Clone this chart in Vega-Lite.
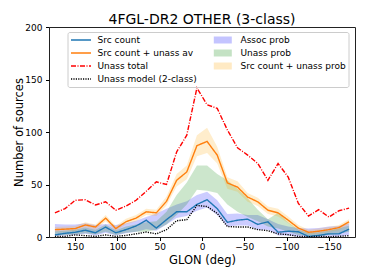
{
  "$schema": "https://vega.github.io/schema/vega-lite/v6.json",
  "width": 306,
  "height": 210,
  "autosize": {"type": "none"},
  "padding": {"left": 49, "top": 27, "right": 19, "bottom": 43},
  "config": {
    "font": "DejaVu Sans",
    "view": {"stroke": "#222222", "strokeWidth": 1},
    "axis": {"domain": false, "grid": false, "tickColor": "#000000", "tickSize": 3.5, "labelFontSize": 9, "labelColor": "#000000", "titleFontSize": 11.5, "titleFontWeight": "normal", "titleColor": "#000000"}
  },
  "title": {"text": "4FGL-DR2 OTHER (3-class)", "fontSize": 14, "fontWeight": "normal", "color": "#000000", "anchor": "middle", "offset": -4},
  "datasets": {
    "lines": [
      {"glon":174,"series":"Src count","v":2},{"glon":162,"series":"Src count","v":3.5},{"glon":150,"series":"Src count","v":4.5},{"glon":138,"series":"Src count","v":6.5},{"glon":126,"series":"Src count","v":4},{"glon":114,"series":"Src count","v":9.5},{"glon":102,"series":"Src count","v":4},{"glon":90,"series":"Src count","v":7},{"glon":78,"series":"Src count","v":10.5},{"glon":66,"series":"Src count","v":16},{"glon":54,"series":"Src count","v":8.5},{"glon":42,"series":"Src count","v":16.5},{"glon":30,"series":"Src count","v":24},{"glon":18,"series":"Src count","v":24},{"glon":6,"series":"Src count","v":31},{"glon":-6,"series":"Src count","v":35.5},{"glon":-18,"series":"Src count","v":27},{"glon":-30,"series":"Src count","v":14},{"glon":-42,"series":"Src count","v":16},{"glon":-54,"series":"Src count","v":17},{"glon":-66,"series":"Src count","v":12},{"glon":-78,"series":"Src count","v":14.5},{"glon":-90,"series":"Src count","v":4.5},{"glon":-102,"series":"Src count","v":5.5},{"glon":-114,"series":"Src count","v":5},{"glon":-126,"series":"Src count","v":0.5},{"glon":-138,"series":"Src count","v":1.5},{"glon":-150,"series":"Src count","v":3},{"glon":-162,"series":"Src count","v":3},{"glon":-174,"series":"Src count","v":7.5},
      {"glon":174,"series":"Src count + unass av","v":7},{"glon":162,"series":"Src count + unass av","v":7.5},{"glon":150,"series":"Src count + unass av","v":8},{"glon":138,"series":"Src count + unass av","v":11.5},{"glon":126,"series":"Src count + unass av","v":9.5},{"glon":114,"series":"Src count + unass av","v":18},{"glon":102,"series":"Src count + unass av","v":8},{"glon":90,"series":"Src count + unass av","v":14.5},{"glon":78,"series":"Src count + unass av","v":18},{"glon":66,"series":"Src count + unass av","v":24},{"glon":54,"series":"Src count + unass av","v":23},{"glon":42,"series":"Src count + unass av","v":34},{"glon":30,"series":"Src count + unass av","v":54},{"glon":18,"series":"Src count + unass av","v":62},{"glon":6,"series":"Src count + unass av","v":87},{"glon":-6,"series":"Src count + unass av","v":91},{"glon":-18,"series":"Src count + unass av","v":78},{"glon":-30,"series":"Src count + unass av","v":51.5},{"glon":-42,"series":"Src count + unass av","v":47.5},{"glon":-54,"series":"Src count + unass av","v":38},{"glon":-66,"series":"Src count + unass av","v":33.5},{"glon":-78,"series":"Src count + unass av","v":25.5},{"glon":-90,"series":"Src count + unass av","v":23},{"glon":-102,"series":"Src count + unass av","v":16},{"glon":-114,"series":"Src count + unass av","v":8.5},{"glon":-126,"series":"Src count + unass av","v":4.5},{"glon":-138,"series":"Src count + unass av","v":5.5},{"glon":-150,"series":"Src count + unass av","v":7},{"glon":-162,"series":"Src count + unass av","v":9},{"glon":-174,"series":"Src count + unass av","v":14.5},
      {"glon":174,"series":"Unass total","v":23},{"glon":162,"series":"Unass total","v":27},{"glon":150,"series":"Unass total","v":35},{"glon":138,"series":"Unass total","v":35.5},{"glon":126,"series":"Unass total","v":30.5},{"glon":114,"series":"Unass total","v":33.5},{"glon":102,"series":"Unass total","v":25.5},{"glon":90,"series":"Unass total","v":29.5},{"glon":78,"series":"Unass total","v":35},{"glon":66,"series":"Unass total","v":43.5},{"glon":54,"series":"Unass total","v":52.5},{"glon":42,"series":"Unass total","v":50},{"glon":30,"series":"Unass total","v":81},{"glon":18,"series":"Unass total","v":97},{"glon":6,"series":"Unass total","v":142},{"glon":-6,"series":"Unass total","v":126},{"glon":-18,"series":"Unass total","v":122.5},{"glon":-30,"series":"Unass total","v":102},{"glon":-42,"series":"Unass total","v":85},{"glon":-54,"series":"Unass total","v":78},{"glon":-66,"series":"Unass total","v":70},{"glon":-78,"series":"Unass total","v":54},{"glon":-90,"series":"Unass total","v":70},{"glon":-102,"series":"Unass total","v":57},{"glon":-114,"series":"Unass total","v":32},{"glon":-126,"series":"Unass total","v":20},{"glon":-138,"series":"Unass total","v":26},{"glon":-150,"series":"Unass total","v":19},{"glon":-162,"series":"Unass total","v":25},{"glon":-174,"series":"Unass total","v":27.5},
      {"glon":174,"series":"Unass model (2-class)","v":0.6},{"glon":162,"series":"Unass model (2-class)","v":0.6},{"glon":150,"series":"Unass model (2-class)","v":2},{"glon":138,"series":"Unass model (2-class)","v":1.3},{"glon":126,"series":"Unass model (2-class)","v":0.6},{"glon":114,"series":"Unass model (2-class)","v":2},{"glon":102,"series":"Unass model (2-class)","v":0.6},{"glon":90,"series":"Unass model (2-class)","v":1.5},{"glon":78,"series":"Unass model (2-class)","v":3},{"glon":66,"series":"Unass model (2-class)","v":4.7},{"glon":54,"series":"Unass model (2-class)","v":3},{"glon":42,"series":"Unass model (2-class)","v":7},{"glon":30,"series":"Unass model (2-class)","v":15.5},{"glon":18,"series":"Unass model (2-class)","v":16.5},{"glon":6,"series":"Unass model (2-class)","v":30},{"glon":-6,"series":"Unass model (2-class)","v":29},{"glon":-18,"series":"Unass model (2-class)","v":22.5},{"glon":-30,"series":"Unass model (2-class)","v":10},{"glon":-42,"series":"Unass model (2-class)","v":9.5},{"glon":-54,"series":"Unass model (2-class)","v":9.5},{"glon":-66,"series":"Unass model (2-class)","v":7},{"glon":-78,"series":"Unass model (2-class)","v":6},{"glon":-90,"series":"Unass model (2-class)","v":3},{"glon":-102,"series":"Unass model (2-class)","v":2.2},{"glon":-114,"series":"Unass model (2-class)","v":0.6},{"glon":-126,"series":"Unass model (2-class)","v":0.3},{"glon":-138,"series":"Unass model (2-class)","v":0.6},{"glon":-150,"series":"Unass model (2-class)","v":0.3},{"glon":-162,"series":"Unass model (2-class)","v":0.6},{"glon":-174,"series":"Unass model (2-class)","v":1.3}
    ],
    "bands": [
      {"glon":174,"series":"Assoc prob","lo":1,"hi":12.5},{"glon":162,"series":"Assoc prob","lo":1.5,"hi":12},{"glon":150,"series":"Assoc prob","lo":2,"hi":12},{"glon":138,"series":"Assoc prob","lo":3,"hi":13},{"glon":126,"series":"Assoc prob","lo":1.5,"hi":11.5},{"glon":114,"series":"Assoc prob","lo":4,"hi":12.5},{"glon":102,"series":"Assoc prob","lo":1.5,"hi":11.5},{"glon":90,"series":"Assoc prob","lo":3.5,"hi":13},{"glon":78,"series":"Assoc prob","lo":5,"hi":15.5},{"glon":66,"series":"Assoc prob","lo":7.5,"hi":19},{"glon":54,"series":"Assoc prob","lo":6,"hi":22.5},{"glon":42,"series":"Assoc prob","lo":12,"hi":27},{"glon":30,"series":"Assoc prob","lo":18,"hi":31},{"glon":18,"series":"Assoc prob","lo":20,"hi":34},{"glon":6,"series":"Assoc prob","lo":25,"hi":40},{"glon":-6,"series":"Assoc prob","lo":28,"hi":43},{"glon":-18,"series":"Assoc prob","lo":21,"hi":35},{"glon":-30,"series":"Assoc prob","lo":10,"hi":22},{"glon":-42,"series":"Assoc prob","lo":11,"hi":22.5},{"glon":-54,"series":"Assoc prob","lo":11,"hi":21},{"glon":-66,"series":"Assoc prob","lo":7,"hi":21},{"glon":-78,"series":"Assoc prob","lo":7,"hi":17},{"glon":-90,"series":"Assoc prob","lo":1.5,"hi":12.5},{"glon":-102,"series":"Assoc prob","lo":1.5,"hi":10},{"glon":-114,"series":"Assoc prob","lo":0.5,"hi":8.5},{"glon":-126,"series":"Assoc prob","lo":0,"hi":8},{"glon":-138,"series":"Assoc prob","lo":0,"hi":8.5},{"glon":-150,"series":"Assoc prob","lo":0.5,"hi":10},{"glon":-162,"series":"Assoc prob","lo":0.5,"hi":10.5},{"glon":-174,"series":"Assoc prob","lo":2,"hi":13},
      {"glon":174,"series":"Unass prob","lo":1.5,"hi":5.5},{"glon":162,"series":"Unass prob","lo":2,"hi":6},{"glon":150,"series":"Unass prob","lo":2.5,"hi":7},{"glon":138,"series":"Unass prob","lo":3.5,"hi":9},{"glon":126,"series":"Unass prob","lo":2.5,"hi":7},{"glon":114,"series":"Unass prob","lo":5,"hi":12},{"glon":102,"series":"Unass prob","lo":2,"hi":6.5},{"glon":90,"series":"Unass prob","lo":4,"hi":10},{"glon":78,"series":"Unass prob","lo":5,"hi":12},{"glon":66,"series":"Unass prob","lo":5,"hi":14},{"glon":54,"series":"Unass prob","lo":7,"hi":15},{"glon":42,"series":"Unass prob","lo":12,"hi":24},{"glon":30,"series":"Unass prob","lo":21,"hi":40},{"glon":18,"series":"Unass prob","lo":31,"hi":52},{"glon":6,"series":"Unass prob","lo":45,"hi":68},{"glon":-6,"series":"Unass prob","lo":44,"hi":68},{"glon":-18,"series":"Unass prob","lo":42,"hi":60},{"glon":-30,"series":"Unass prob","lo":31,"hi":54},{"glon":-42,"series":"Unass prob","lo":24,"hi":46},{"glon":-54,"series":"Unass prob","lo":19,"hi":37},{"glon":-66,"series":"Unass prob","lo":15,"hi":26},{"glon":-78,"series":"Unass prob","lo":10,"hi":17},{"glon":-90,"series":"Unass prob","lo":8,"hi":23},{"glon":-102,"series":"Unass prob","lo":5,"hi":14},{"glon":-114,"series":"Unass prob","lo":2,"hi":7},{"glon":-126,"series":"Unass prob","lo":1,"hi":4},{"glon":-138,"series":"Unass prob","lo":1,"hi":4.5},{"glon":-150,"series":"Unass prob","lo":2,"hi":6},{"glon":-162,"series":"Unass prob","lo":3,"hi":8},{"glon":-174,"series":"Unass prob","lo":5,"hi":11},
      {"glon":174,"series":"Src count + unass prob","lo":5,"hi":9.5},{"glon":162,"series":"Src count + unass prob","lo":5.5,"hi":10},{"glon":150,"series":"Src count + unass prob","lo":6,"hi":10.5},{"glon":138,"series":"Src count + unass prob","lo":9,"hi":14},{"glon":126,"series":"Src count + unass prob","lo":7,"hi":12},{"glon":114,"series":"Src count + unass prob","lo":15,"hi":21},{"glon":102,"series":"Src count + unass prob","lo":6,"hi":10.5},{"glon":90,"series":"Src count + unass prob","lo":12,"hi":17.5},{"glon":78,"series":"Src count + unass prob","lo":15,"hi":21},{"glon":66,"series":"Src count + unass prob","lo":21,"hi":27},{"glon":54,"series":"Src count + unass prob","lo":20,"hi":26},{"glon":42,"series":"Src count + unass prob","lo":30,"hi":38.5},{"glon":30,"series":"Src count + unass prob","lo":48,"hi":60},{"glon":18,"series":"Src count + unass prob","lo":55,"hi":68},{"glon":6,"series":"Src count + unass prob","lo":77,"hi":97},{"glon":-6,"series":"Src count + unass prob","lo":80,"hi":104},{"glon":-18,"series":"Src count + unass prob","lo":70,"hi":86},{"glon":-30,"series":"Src count + unass prob","lo":46,"hi":57},{"glon":-42,"series":"Src count + unass prob","lo":43,"hi":53},{"glon":-54,"series":"Src count + unass prob","lo":33.5,"hi":42},{"glon":-66,"series":"Src count + unass prob","lo":29.5,"hi":37.5},{"glon":-78,"series":"Src count + unass prob","lo":22,"hi":29},{"glon":-90,"series":"Src count + unass prob","lo":19.5,"hi":27},{"glon":-102,"series":"Src count + unass prob","lo":13,"hi":19.5},{"glon":-114,"series":"Src count + unass prob","lo":6,"hi":11.5},{"glon":-126,"series":"Src count + unass prob","lo":2.5,"hi":7},{"glon":-138,"series":"Src count + unass prob","lo":3.5,"hi":8},{"glon":-150,"series":"Src count + unass prob","lo":5,"hi":9.5},{"glon":-162,"series":"Src count + unass prob","lo":6.5,"hi":11.5},{"glon":-174,"series":"Src count + unass prob","lo":12,"hi":17}
    ]
  },
  "encoding": {
    "x": {
      "field": "glon", "type": "quantitative",
      "scale": {"domain": [-181, 181], "reverse": true, "nice": false, "zero": false},
      "axis": {"values": [150, 100, 50, 0, -50, -100, -150], "title": "GLON (deg)", "labelPadding": 2, "titlePadding": 3}
    }
  },
  "layer": [
    {
      "data": {"name": "bands"},
      "mark": {"type": "area"},
      "encoding": {
        "y": {"field": "lo", "type": "quantitative", "title": "Number of sources",
          "scale": {"domain": [0, 200], "nice": false},
          "axis": {"values": [0, 25, 50, 75, 100, 125, 150, 175, 200], "labelPadding": 3.5, "titlePadding": 0}},
        "y2": {"field": "hi"},
        "fill": {"field": "series", "type": "nominal",
          "scale": {"domain": ["Assoc prob", "Unass prob", "Src count + unass prob"], "range": ["#0000ff", "#008000", "#ffa500"]},
          "legend": {"orient": "none", "legendX": 163.8, "legendY": 7.5, "title": null, "padding": 0,
            "clipHeight": 11, "rowPadding": 2, "symbolSize": 400, "symbolType": "M-0.9,-0.35H0.9V0.35H-0.9Z",
            "symbolStrokeWidth": 0, "symbolOpacity": 0.23, "labelExpr": "''", "labelFontSize": 9, "labelOffset": 5.5}},
        "fillOpacity": {"field": "series", "type": "nominal",
          "scale": {"domain": ["Assoc prob", "Unass prob", "Src count + unass prob"], "range": [0.2, 0.2, 0.3]},
          "legend": {"orient": "none", "legendX": 163.8, "legendY": 7.5, "title": null, "padding": 0,
            "clipHeight": 11, "rowPadding": 2, "symbolSize": 400, "symbolType": "M-0.9,-0.35H0.9V0.35H-0.9Z",
            "symbolStrokeWidth": 0, "symbolOpacity": 0.23, "labelExpr": "''", "labelFontSize": 9, "labelOffset": 5.5}}
      }
    },
    {
      "data": {"name": "lines"},
      "mark": {"type": "line", "strokeWidth": 1.4},
      "encoding": {
        "y": {"field": "v", "type": "quantitative", "title": "Number of sources"},
        "stroke": {"field": "series", "type": "nominal",
          "scale": {"domain": ["Src count", "Src count + unass av", "Unass total", "Unass model (2-class)", "Assoc prob", "Unass prob", "Src count + unass prob"],
            "range": ["#1f77b4", "#ff7f0e", "#ff0000", "#000000", "transparent", "transparent", "transparent"]},
          "legend": {"orient": "none", "legendX": 18.5, "legendY": 5, "title": null, "columns": 2,
            "columnPadding": 16, "rowPadding": 2, "clipHeight": 11, "symbolSize": 400, "symbolStrokeWidth": 1.4, "symbolType": "stroke",
            "labelFontSize": 9, "labelColor": "#000000", "labelOffset": 5.5, "padding": 2.5,
            "strokeColor": "#cccccc", "cornerRadius": 2}},
        "strokeDash": {"field": "series", "type": "nominal",
          "scale": {"domain": ["Src count", "Src count + unass av", "Unass total", "Unass model (2-class)", "Assoc prob", "Unass prob", "Src count + unass prob"],
            "range": [[1, 0], [1, 0], [5, 1.5, 1, 1.5], [1.2, 1.2], [1, 0], [1, 0], [1, 0]]},
          "legend": {"orient": "none", "legendX": 18.5, "legendY": 5, "title": null, "columns": 2,
            "columnPadding": 16, "rowPadding": 2, "clipHeight": 11, "symbolSize": 400, "symbolStrokeWidth": 1.4, "symbolType": "stroke",
            "labelFontSize": 9, "labelColor": "#000000", "labelOffset": 5.5, "padding": 2.5,
            "strokeColor": "#cccccc", "cornerRadius": 2}}
      }
    }
  ]
}
